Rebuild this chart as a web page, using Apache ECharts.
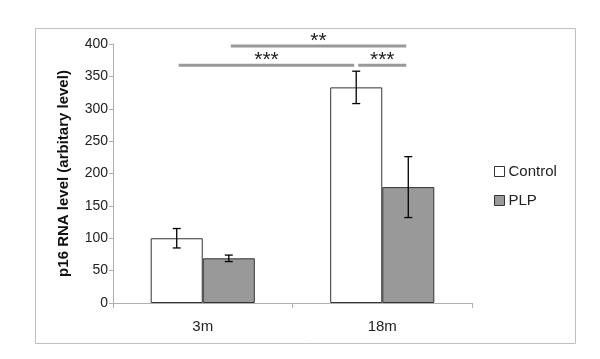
<!DOCTYPE html>
<html>
<head>
<meta charset="utf-8">
<script src="https://cdn.jsdelivr.net/npm/echarts@6/dist/echarts.min.js"></script>
<style>
  html, body { margin: 0; padding: 0; background: #fff; }
  #chart { width: 600px; height: 359px; }
</style>
</head>
<body>
<div id="chart"></div>
<script>
const categories = ['3m', '18m']
const controlValues = [100, 333]
const controlErrors = [15, 25]
const plpValues = [69, 179]
const plpErrors = [5, 47]
const yTicks = [0, 50, 100, 150, 200, 250, 300, 350, 400]

// significance brackets: [category, series] -> [category, series], height, label
const sigFrom = [[0, 0], [1, 0], [0, 1]]
const sigTo = [[1, 0], [1, 1], [1, 1]]
const sigLevels = [367, 367, 397]
const sigLabels = ['***', '***', '**']

const barShare = 0.29 // each bar's width as a share of the category band

function barCenter (api, cat, s, y) {
  let band = api.size([1, 0])[0]
  let p = api.coord([cat, y])
  return [p[0] + (s === 0 ? -0.5 : 0.5) * band * barShare, p[1]]
}

function errorSeries (name, values, errors, s) {
  return {
    name: name + ' err',
    type: 'custom',
    silent: true,
    z: 5,
    data: values.map((v, i) => [i, v, errors[i]]),
    renderItem: (params, api) => {
      let cat = api.value(0)
      let v = api.value(1)
      let e = api.value(2)
      let top = barCenter(api, cat, s, v + e)
      let bot = barCenter(api, cat, s, v - e)
      let x = top[0]
      let cap = 4
      let style = { stroke: '#000', lineWidth: 1.3 }
      return {
        type: 'group',
        children: [
          { type: 'line', shape: { x1: x, y1: top[1], x2: x, y2: bot[1] }, style: style },
          { type: 'line', shape: { x1: x - cap, y1: top[1], x2: x + cap, y2: top[1] }, style: style },
          { type: 'line', shape: { x1: x - cap, y1: bot[1], x2: x + cap, y2: bot[1] }, style: style }
        ]
      }
    }
  }
}

let myChart = echarts.init(document.getElementById('chart'))
myChart.setOption({
  animation: false,
  textStyle: { fontFamily: 'Liberation Sans' },
  graphic: [{
    type: 'rect',
    shape: { x: 35.5, y: 28.5, width: 540, height: 315 },
    style: { fill: 'none', stroke: '#bfbfbf', lineWidth: 1 },
    silent: true
  }],
  grid: { left: 113, right: 128, top: 44, bottom: 56 },
  legend: {
    orient: 'vertical',
    left: 489,
    top: 159,
    icon: 'rect',
    itemWidth: 10,
    itemHeight: 10,
    itemGap: 14,
    data: ['Control', 'PLP'],
    itemStyle: { borderColor: '#333', borderWidth: 1 },
    textStyle: { fontSize: 15, color: '#222', padding: [0, 0, 0, -1] }
  },
  xAxis: {
    type: 'category',
    data: categories,
    axisLine: { lineStyle: { color: '#b0b0b0', width: 1 } },
    axisTick: { show: true, length: 5, lineStyle: { color: '#b0b0b0' } },
    axisLabel: { fontSize: 15, color: '#222', margin: 16 }
  },
  yAxis: {
    type: 'value',
    min: yTicks[0],
    max: yTicks[yTicks.length - 1],
    interval: 50,
    name: 'p16 RNA level (arbitary level)',
    nameLocation: 'middle',
    nameGap: 42,
    nameTextStyle: { fontSize: 15, fontWeight: 'bold', color: '#111' },
    splitLine: { show: false },
    axisLine: { show: true, lineStyle: { color: '#b0b0b0', width: 1 } },
    axisTick: { show: true, length: 4, lineStyle: { color: '#b0b0b0' } },
    axisLabel: { fontSize: 14, color: '#222', margin: 5 }
  },
  series: [
    {
      name: 'Control',
      type: 'bar',
      data: controlValues,
      barGap: 0,
      barCategoryGap: '42%',
      itemStyle: { color: '#ffffff', borderColor: '#333', borderWidth: 1 }
    },
    {
      name: 'PLP',
      type: 'bar',
      data: plpValues,
      barGap: 0,
      barCategoryGap: '42%',
      itemStyle: { color: '#999999', borderColor: '#333', borderWidth: 1 }
    },
    errorSeries('Control', controlValues, controlErrors, 0),
    errorSeries('PLP', plpValues, plpErrors, 1),
    {
      name: 'sig',
      type: 'custom',
      silent: true,
      z: 6,
      data: sigLevels.map((lvl, i) => [i, lvl]),
      renderItem: (params, api) => {
        let i = params.dataIndex
        let a = barCenter(api, sigFrom[i][0], sigFrom[i][1], sigLevels[i])
        let b = barCenter(api, sigTo[i][0], sigTo[i][1], sigLevels[i])
        let x1 = a[0] + 2
        let x2 = b[0] - 2
        return {
          type: 'group',
          children: [
            { type: 'line', shape: { x1: x1, y1: a[1], x2: x2, y2: a[1] }, style: { stroke: '#999', lineWidth: 3 } },
            {
              type: 'text',
              x: (x1 + x2) / 2,
              y: a[1] - 5,
              style: {
                text: sigLabels[i],
                fontSize: 21,
                fontFamily: 'Liberation Sans',
                fill: '#222',
                align: 'center',
                verticalAlign: 'middle'
              }
            }
          ]
        }
      }
    }
  ]
})
</script>
</body>
</html>
